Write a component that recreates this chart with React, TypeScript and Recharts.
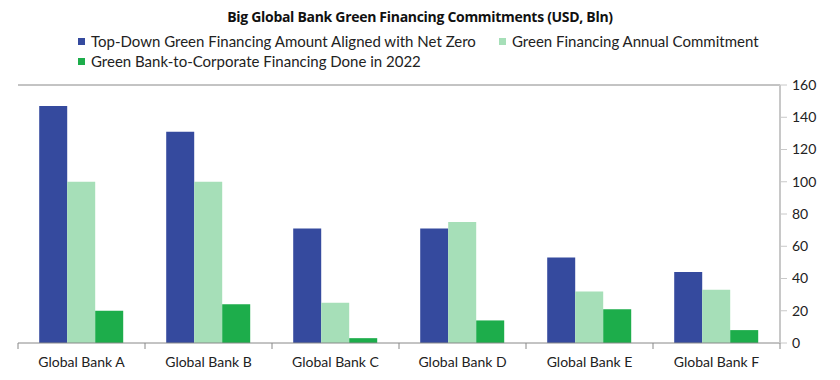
import { BarChart, Bar, XAxis, YAxis, ReferenceLine } from 'recharts';

const banks = ['Global Bank A', 'Global Bank B', 'Global Bank C', 'Global Bank D', 'Global Bank E', 'Global Bank F'];
const topDown = [147, 131, 71, 71, 53, 44];
const annualCommitment = [100, 100, 25, 75, 32, 33];
const done2022 = [20, 24, 3, 14, 21, 8];
const yTicks = [0, 20, 40, 60, 80, 100, 120, 140, 160];

const seriesNames = [
    'Top-Down Green Financing Amount Aligned with Net Zero',
    'Green Financing Annual Commitment',
    'Green Bank-to-Corporate Financing Done in 2022',
];
const seriesColors = ['#354A9E', '#A6DFB8', '#1DAD4B'];

const data = banks.map((name, i) => ({
    name,
    topDown: topDown[i],
    annual: annualCommitment[i],
    done: done2022[i],
}));

const FONT = 'Lato, "Open Sans", sans-serif';

function BankTick(props: any) {
    const { x, y, payload, index } = props;
    const half = payload.offset || 0;
    const axisY = y - 8;
    return (
        <g>
            <line x1={x - half} y1={axisY} x2={x - half} y2={axisY + 6} stroke="#888" />
            {index === banks.length - 1 && (
                <line x1={x + half} y1={axisY} x2={x + half} y2={axisY + 6} stroke="#888" />
            )}
            <text x={x} y={y + 6} dy="0.71em" textAnchor="middle" fontSize={14} fill="#222" fontFamily={FONT}>
                {payload.value}
            </text>
        </g>
    );
}

function LegendItem({ i, left, top }: { i: number; left: number; top: number }) {
    return (
        <div style={{ position: 'absolute', left, top, display: 'flex', alignItems: 'center', whiteSpace: 'nowrap' }}>
            <span style={{ width: 7, height: 7, background: seriesColors[i], marginRight: 6, display: 'inline-block' }} />
            <span style={{ fontSize: 15, color: '#222', fontFamily: FONT }}>{seriesNames[i]}</span>
        </div>
    );
}

export default function App() {
    return (
        <div style={{ width: 824, fontFamily: FONT }}>
            <div style={{ position: 'relative', height: 69 }}>
                <div style={{ position: 'absolute', top: 0, left: 0, width: 824, textAlign: 'center', fontWeight: 'bold', fontSize: 14, color: '#111', lineHeight: '18px', fontFamily: '"Open Sans", sans-serif', letterSpacing: -0.3 }}>
                    Big Global Bank Green Financing Commitments (USD, Bln)
                </div>
                <LegendItem i={0} left={70} top={24} />
                <LegendItem i={1} left={491} top={24} />
                <LegendItem i={2} left={70} top={44} />
            </div>
            <BarChart
                width={824}
                height={300}
                data={data}
                margin={{ top: 8, right: 8, left: 10, bottom: 4 }}
                barCategoryGap="16.7%"
                barGap={0}
            >
                <XAxis
                    dataKey="name"
                    height={30}
                    axisLine={{ stroke: '#888' }}
                    tickLine={false}
                    tick={<BankTick />}
                    interval={0}
                />
                <YAxis
                    yAxisId="left"
                    orientation="left"
                    width={0}
                    domain={[0, 160]}
                    ticks={yTicks}
                    tick={false}
                    tickLine={false}
                    axisLine={{ stroke: '#888' }}
                />
                <YAxis
                    yAxisId="right"
                    orientation="right"
                    width={44}
                    domain={[0, 160]}
                    ticks={yTicks}
                    axisLine={{ stroke: '#c8c8c8', strokeWidth: 2 }}
                    tickLine={{ stroke: '#c8c8c8' }}
                    tickSize={7}
                    tickMargin={5}
                    tick={{ fontSize: 14, fill: '#222', fontFamily: FONT, textAnchor: 'start' }}
                />
                <ReferenceLine yAxisId="right" y={160} stroke="#888" />
                <Bar yAxisId="right" dataKey="topDown" name={seriesNames[0]} fill={seriesColors[0]} isAnimationActive={false} />
                <Bar yAxisId="right" dataKey="annual" name={seriesNames[1]} fill={seriesColors[1]} isAnimationActive={false} />
                <Bar yAxisId="right" dataKey="done" name={seriesNames[2]} fill={seriesColors[2]} isAnimationActive={false} />
            </BarChart>
        </div>
    );
}
